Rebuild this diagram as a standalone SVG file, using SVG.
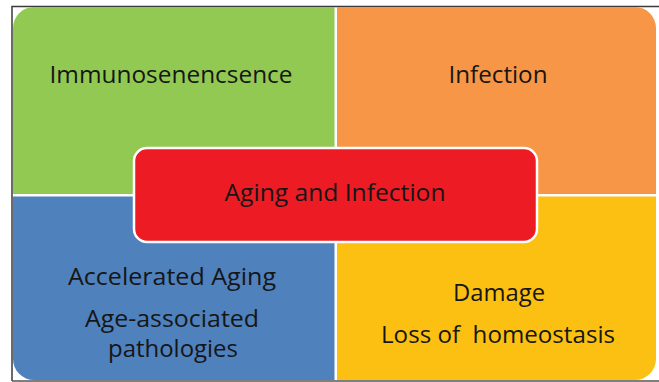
<svg xmlns="http://www.w3.org/2000/svg" width="659" height="382" viewBox="0 0 659 382">
<style>
.t{font-family:"Open Sans","Liberation Sans",sans-serif;font-size:23px;fill:#161616;text-anchor:middle}
</style>
<rect width="659" height="382" fill="#ffffff"/>
<g id="frame" fill="none" stroke="#3a3a3a" stroke-width="1.5">
<path d="M12,381 V6.5 H659"/>
<path d="M12,381 H659" stroke="#555"/>
</g>
<g id="immunosenescence">
<path d="M13,194 V28 A21,21 0 0 1 34,7 H334.5 V194 Z" fill="#92C953"/>
<text class="t" x="171" y="83" textLength="243" lengthAdjust="spacingAndGlyphs">Immunosenencsence</text>
</g>
<g id="infection">
<path d="M337,7 H635 A21,21 0 0 1 656,28 V194 H337 Z" fill="#F79646"/>
<text class="t" x="498" y="83" textLength="99" lengthAdjust="spacingAndGlyphs">Infection</text>
</g>
<g id="aging">
<path d="M13,196.5 H334.5 V380 H34 A21,21 0 0 1 13,359 Z" fill="#4F81BD"/>
<text class="t" x="172" y="285" textLength="208" lengthAdjust="spacingAndGlyphs">Accelerated Aging</text>
<text class="t" x="172" y="327" textLength="174" lengthAdjust="spacingAndGlyphs">Age-associated</text>
<text class="t" x="173" y="357" textLength="130" lengthAdjust="spacingAndGlyphs">pathologies</text>
</g>
<g id="damage">
<path d="M337,196.5 H656 V359 A21,21 0 0 1 635,380 H337 Z" fill="#FBC012"/>
<text class="t" x="499" y="301" textLength="92" lengthAdjust="spacingAndGlyphs">Damage</text>
<text class="t" x="498" y="343" textLength="234" lengthAdjust="spacingAndGlyphs">Loss of&#160; homeostasis</text>
</g>
<g id="center">
<rect x="134" y="148" width="403" height="94" rx="13" fill="#ED1C24" stroke="#ffffff" stroke-width="2.5"/>
<text class="t" x="335" y="201" textLength="221" lengthAdjust="spacingAndGlyphs">Aging and Infection</text>
</g>
<g id="connectors"></g>
</svg>
